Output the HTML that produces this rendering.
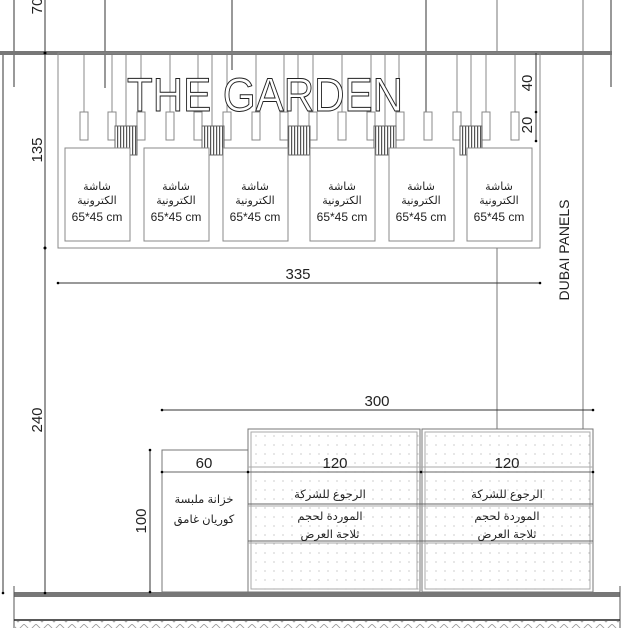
<!DOCTYPE html>
<html><head><meta charset="utf-8"><style>
html,body{margin:0;padding:0;background:#fff}
svg{display:block}
text{font-family:"Liberation Sans","DejaVu Sans",sans-serif}
.ar{font-family:"Liberation Sans","Noto Sans CJK SC","DejaVu Sans",sans-serif}
</style></head><body>
<svg width="628" height="628" viewBox="0 0 628 628" xmlns="http://www.w3.org/2000/svg">
<defs>
<pattern id="dots" width="9" height="9" patternUnits="userSpaceOnUse"><circle cx="4" cy="4" r="0.6" fill="#aaa"/></pattern>
<pattern id="stripe" width="3" height="10" patternUnits="userSpaceOnUse"><rect width="3" height="10" fill="#fff"/><rect width="1.2" height="10" fill="#555"/></pattern>
<pattern id="hatch" width="12" height="8" patternUnits="userSpaceOnUse"><path d="M0 0 L6 6 L12 0" fill="none" stroke="#999" stroke-width="0.8"/></pattern>
</defs>
<g stroke="#333" stroke-width="1" fill="none">
<line x1="3" y1="53" x2="3" y2="593"/>
<line x1="14" y1="0" x2="14" y2="87"/>
<line x1="45" y1="0" x2="45" y2="593"/>
<line x1="105" y1="0" x2="105" y2="88"/>
<line x1="232" y1="0" x2="232" y2="70"/>
<line x1="426" y1="0" x2="426" y2="113"/>
<line x1="497" y1="0" x2="497" y2="53" stroke="#777"/>
<line x1="583" y1="0" x2="583" y2="53" stroke="#777"/>
<line x1="611" y1="0" x2="611" y2="87"/>
</g>
<rect x="0" y="51" width="612" height="4" fill="#777"/>
<circle cx="45" cy="53" r="1.5" fill="#000"/><circle cx="45" cy="248" r="1.5" fill="#000"/>
<rect x="58" y="53" width="482" height="195" fill="none" stroke="#888"/>
<line x1="583" y1="53" x2="583" y2="430" stroke="#777"/>
<line x1="497" y1="248" x2="497" y2="430" stroke="#777"/>
<g stroke="#888" fill="#fff">
<line x1="84" y1="55" x2="84" y2="112"/><rect x="80" y="112" width="8" height="28"/>
<line x1="112" y1="55" x2="112" y2="112"/><rect x="108" y="112" width="8" height="28"/>
<line x1="126" y1="55" x2="126" y2="126"/><line x1="141" y1="55" x2="141" y2="112"/><rect x="137" y="112" width="8" height="28"/>
<line x1="170" y1="55" x2="170" y2="112"/><rect x="166" y="112" width="8" height="28"/>
<line x1="198" y1="55" x2="198" y2="112"/><rect x="194" y="112" width="8" height="28"/>
<line x1="212" y1="55" x2="212" y2="126"/><line x1="227" y1="55" x2="227" y2="112"/><rect x="223" y="112" width="8" height="28"/>
<line x1="256" y1="55" x2="256" y2="112"/><rect x="252" y="112" width="8" height="28"/>
<line x1="284" y1="55" x2="284" y2="112"/><rect x="280" y="112" width="8" height="28"/>
<line x1="298" y1="55" x2="298" y2="126"/><line x1="313" y1="55" x2="313" y2="112"/><rect x="309" y="112" width="8" height="28"/>
<line x1="342" y1="55" x2="342" y2="112"/><rect x="338" y="112" width="8" height="28"/>
<line x1="371" y1="55" x2="371" y2="112"/><rect x="367" y="112" width="8" height="28"/>
<line x1="385" y1="55" x2="385" y2="126"/><line x1="399" y1="55" x2="399" y2="112"/><rect x="396" y="112" width="8" height="28"/>
<rect x="424" y="112" width="8" height="28"/>
<line x1="457" y1="55" x2="457" y2="112"/><rect x="453" y="112" width="8" height="28"/>
<line x1="471" y1="55" x2="471" y2="126"/><line x1="486" y1="55" x2="486" y2="112"/><rect x="482" y="112" width="8" height="28"/>
<line x1="515" y1="55" x2="515" y2="112"/><rect x="511" y="112" width="8" height="28"/>
</g>
<g stroke="#666">
<rect x="115" y="126" width="22" height="29" fill="url(#stripe)"/>
<rect x="202" y="126" width="22" height="29" fill="url(#stripe)"/>
<rect x="288" y="126" width="22" height="29" fill="url(#stripe)"/>
<rect x="374" y="126" width="22" height="29" fill="url(#stripe)"/>
<rect x="460" y="126" width="22" height="29" fill="url(#stripe)"/>
</g>
<text x="127" y="111" font-size="47" textLength="276" lengthAdjust="spacingAndGlyphs" fill="#fff" stroke="#222" stroke-width="1">THE GARDEN</text>
<g fill="#fff" stroke="#888">
<rect x="65" y="148" width="65" height="93"/><rect x="144" y="148" width="65" height="93"/><rect x="223" y="148" width="65" height="93"/>
<rect x="310" y="148" width="65" height="93"/><rect x="389" y="148" width="65" height="93"/><rect x="467" y="148" width="65" height="93"/>
</g>
<g font-size="12" text-anchor="middle" fill="#222">
<g class="ar" font-size="11">
<text x="97" y="190">شاشة</text><text x="97" y="204">الكترونية</text>
<text x="176" y="190">شاشة</text><text x="176" y="204">الكترونية</text>
<text x="255" y="190">شاشة</text><text x="255" y="204">الكترونية</text>
<text x="342" y="190">شاشة</text><text x="342" y="204">الكترونية</text>
<text x="421" y="190">شاشة</text><text x="421" y="204">الكترونية</text>
<text x="499" y="190">شاشة</text><text x="499" y="204">الكترونية</text>
</g>
<text x="97" y="221">65*45 cm</text><text x="176" y="221">65*45 cm</text><text x="255" y="221">65*45 cm</text>
<text x="342" y="221">65*45 cm</text><text x="421" y="221">65*45 cm</text><text x="499" y="221">65*45 cm</text>
</g>
<line x1="536" y1="53" x2="536" y2="141" stroke="#333"/>
<circle cx="536" cy="112" r="1.3"/><circle cx="536" cy="141" r="1.3"/>
<line x1="58" y1="283" x2="540" y2="283" stroke="#333"/><circle cx="540" cy="283" r="1.3"/><circle cx="58" cy="283" r="1.3"/>
<line x1="162" y1="410" x2="593" y2="410" stroke="#333"/><circle cx="593" cy="410" r="1.3"/><circle cx="162" cy="410" r="1.3"/>
<line x1="150" y1="450" x2="150" y2="592" stroke="#333"/><circle cx="150" cy="450" r="1.3"/>
<rect x="162" y="450" width="86" height="142" fill="#fff" stroke="#777"/>
<rect x="248" y="429" width="345" height="163" fill="#fff"/>
<g stroke="#777" fill="url(#dots)">
<rect x="248" y="429" width="172" height="163"/>
<rect x="422" y="429" width="171" height="163"/>
<rect x="251" y="432" width="166" height="157" fill="none" stroke="#aaa"/>
<rect x="425" y="432" width="165" height="157" fill="none" stroke="#aaa"/>
</g>
<g stroke="#666">
<line x1="162" y1="472" x2="593" y2="472"/>
<line x1="248" y1="467" x2="593" y2="467" stroke="#aaa"/>
<line x1="248" y1="504" x2="593" y2="504"/><line x1="248" y1="506" x2="593" y2="506" stroke="#aaa"/>
<line x1="248" y1="541" x2="593" y2="541"/><line x1="248" y1="543" x2="593" y2="543" stroke="#aaa"/>
</g>
<circle cx="162" cy="472" r="1.3"/><circle cx="248" cy="472" r="1.3"/><circle cx="421" cy="472" r="1.3"/><circle cx="593" cy="472" r="1.3"/>
<g font-size="15" fill="#222" text-anchor="middle">
<text transform="translate(532,83) rotate(-90)">40</text>
<text transform="translate(532,125) rotate(-90)">20</text>
<text transform="translate(42,150) rotate(-90)">135</text>
<text transform="translate(42,6) rotate(-90)">70</text>
<text transform="translate(42,420) rotate(-90)">240</text>
<text transform="translate(146,521) rotate(-90)">100</text>
<text transform="translate(569,250) rotate(-90)" font-size="14">DUBAI PANELS</text>
<text x="298" y="279">335</text>
<text x="377" y="406">300</text>
<text x="204" y="468">60</text>
<text x="335" y="468">120</text>
<text x="507" y="468">120</text>
</g>
<g class="ar" font-size="11.5" text-anchor="middle" fill="#222">
<text x="204" y="503">خزانة ملبسة</text><text x="204" y="523">كوريان غامق</text>
<text x="330" y="498">الرجوع للشركة</text><text x="330" y="520">الموردة لحجم</text><text x="330" y="538">ثلاجة العرض</text>
<text x="507" y="498">الرجوع للشركة</text><text x="507" y="520">الموردة لحجم</text><text x="507" y="538">ثلاجة العرض</text>
</g>
<rect x="14" y="592" width="606" height="5" fill="#777"/>
<line x1="14" y1="586" x2="14" y2="628" stroke="#555"/>
<line x1="620" y1="586" x2="620" y2="628" stroke="#555"/>
<line x1="14" y1="620" x2="620" y2="620" stroke="#222" stroke-width="1.5"/>
<rect x="15" y="621" width="604" height="7" fill="url(#hatch)"/>
<circle cx="3" cy="593" r="1.3"/><circle cx="45" cy="593" r="1.3"/><circle cx="150" cy="592" r="1.3"/>
</svg>
</body></html>
